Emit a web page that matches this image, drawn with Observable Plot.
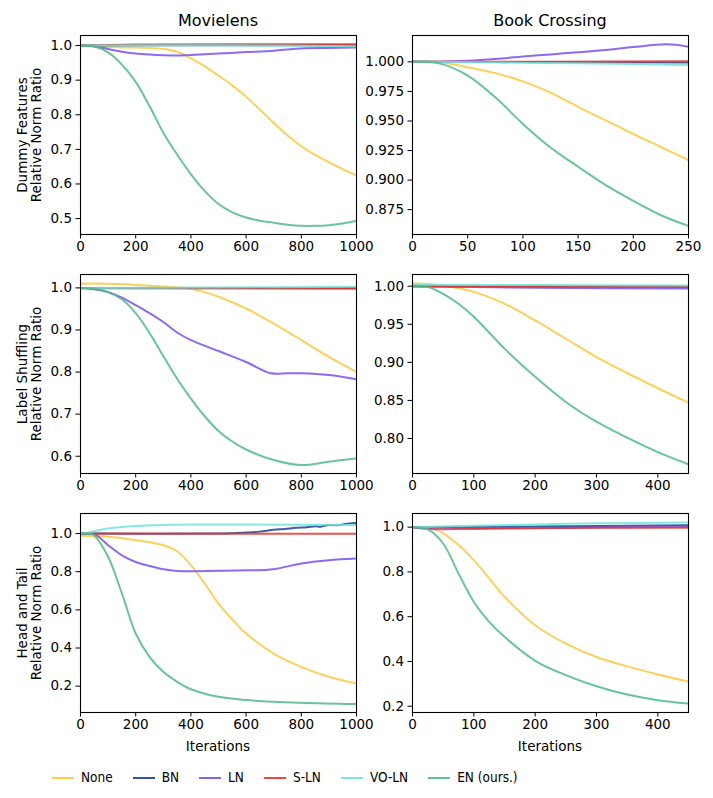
<!DOCTYPE html>
<html>
<head>
<meta charset="utf-8">
<script src="https://cdn.jsdelivr.net/npm/d3@7"></script>
<script src="https://cdn.jsdelivr.net/npm/@observablehq/plot@0.6"></script>
<style>
  html, body { margin: 0; padding: 0; background: #fff; }
  #fig { position: relative; width: 713px; height: 798px; font-family: "DejaVu Sans", sans-serif; color: #000; }
  .abs { position: absolute; }
  .title { font-size: 16px; line-height: 1; white-space: nowrap; transform: translateX(-50%); }
  .xlab { font-size: 13.5px; line-height: 1; white-space: nowrap; transform: translateX(-50%); }
  .ylab { font-size: 13.5px; line-height: 14px; white-space: nowrap; text-align: center; transform: translate(-50%, -50%) rotate(-90deg); }
  #legend { display: flex; align-items: center; font-family: "DejaVu Sans Condensed", "DejaVu Sans", sans-serif; font-stretch: condensed; font-size: 13.5px; line-height: 1; }
  .item { display: flex; align-items: center; margin-right: 20px; }
  .sw { width: 22px; height: 2.2px; margin-right: 7px; opacity: 0.9; }
</style>
</head>
<body>
<div id="fig"></div>
<script>
// ---------- series ----------
const seriesNames = ["None", "BN", "LN", "S-LN", "VO-LN", "EN (ours.)"];
const seriesColors = ["#fbc93d", "#1a3f95", "#7b4ff0", "#e8362c", "#6ee6dc", "#4dbb88"];

// ---------- Movielens / Dummy Features ----------
const mlDummyNone = [[0,0.998],[100,0.996],[200,0.994],[300,0.99],[350,0.982],[400,0.963],[450,0.94],[500,0.913],[550,0.885],[600,0.852],[650,0.815],[700,0.776],[750,0.74],[800,0.709],[850,0.684],[900,0.663],[950,0.643],[1000,0.625]];
const mlDummyBN = [[0,1.0],[500,1.001],[1000,1.001]];
const mlDummyLN = [[0,1.0],[50,0.998],[100,0.99],[150,0.982],[200,0.977],[250,0.974],[300,0.972],[350,0.971],[400,0.973],[500,0.977],[600,0.981],[700,0.985],[780,0.991],[900,0.993],[1000,0.994]];
const mlDummySLN = [[0,1.0],[200,1.003],[1000,1.004]];
const mlDummyVOLN = [[0,1.0],[500,1.001],[1000,0.998]];
const mlDummyEN = [[0,1.0],[50,0.997],[100,0.98],[150,0.945],[200,0.895],[250,0.825],[300,0.748],[350,0.685],[400,0.628],[450,0.58],[500,0.542],[550,0.518],[600,0.503],[650,0.494],[700,0.488],[750,0.482],[800,0.479],[850,0.479],[900,0.481],[950,0.486],[1000,0.493]];

// ---------- Book Crossing / Dummy Features ----------
const bcDummyNone = [[0,1.0],[25,0.9995],[50,0.9955],[75,0.9905],[100,0.9835],[125,0.974],[150,0.962],[175,0.9505],[200,0.939],[225,0.928],[250,0.917]];
const bcDummyBN = [[0,1.0],[125,0.9997],[250,0.9995]];
const bcDummyLN = [[0,1.0],[25,1.0002],[50,1.001],[75,1.0025],[100,1.0045],[125,1.0063],[150,1.0082],[175,1.01],[200,1.0125],[230,1.0148],[250,1.0128]];
const bcDummySLN = [[0,1.0],[125,1.0002],[250,1.0005]];
const bcDummyVOLN = [[0,1.0],[50,0.9998],[100,0.9993],[150,0.9988],[200,0.9981],[250,0.9973]];
const bcDummyEN = [[0,1.0],[25,0.9985],[50,0.9884],[75,0.970],[100,0.9475],[125,0.9276],[150,0.9113],[175,0.8958],[200,0.8825],[225,0.8703],[250,0.8613]];

// ---------- Movielens / Label Shuffling ----------
const mlLabelNone = [[0,1.010],[100,1.010],[150,1.009],[200,1.007],[300,1.003],[400,0.998],[450,0.99],[500,0.979],[600,0.951],[700,0.915],[800,0.876],[900,0.836],[1000,0.800]];
const mlLabelBN = [[0,1.0],[1000,1.0]];
const mlLabelLN = [[0,1.0],[50,0.997],[100,0.99],[150,0.977],[200,0.959],[250,0.94],[300,0.919],[350,0.894],[400,0.876],[500,0.85],[600,0.824],[690,0.797],[750,0.797],[800,0.797],[900,0.793],[1000,0.783]];
const mlLabelSLN = [[0,0.999],[1000,0.998]];
const mlLabelVOLN = [[0,1.0],[500,1.001],[1000,1.003]];
const mlLabelEN = [[0,1.0],[50,0.998],[100,0.99],[150,0.973],[200,0.94],[250,0.893],[300,0.838],[350,0.784],[400,0.737],[450,0.695],[500,0.66],[550,0.635],[600,0.616],[700,0.591],[800,0.579],[900,0.587],[1000,0.595]];

// ---------- Book Crossing / Label Shuffling ----------
const bcLabelNone = [[0,1.0035],[25,1.003],[50,1.001],[100,0.9926],[150,0.977],[200,0.955],[250,0.931],[300,0.907],[350,0.886],[400,0.866],[450,0.847]];
const bcLabelBN = [[0,1.0],[450,0.9995]];
const bcLabelLN = [[0,1.0],[100,0.999],[200,0.998],[450,0.997]];
const bcLabelSLN = [[0,1.0],[450,0.999]];
const bcLabelVOLN = [[0,1.002],[200,1.0015],[450,1.001]];
const bcLabelEN = [[0,1.0],[25,0.999],[50,0.990],[75,0.977],[100,0.960],[150,0.918],[200,0.881],[250,0.848],[300,0.822],[350,0.801],[400,0.782],[450,0.766]];

// ---------- Movielens / Head and Tail ----------
const mlHeadNone = [[0,0.988],[100,0.983],[200,0.965],[300,0.939],[350,0.907],[400,0.834],[450,0.738],[500,0.633],[550,0.55],[600,0.476],[700,0.371],[800,0.301],[900,0.249],[1000,0.214]];
const mlHeadBN = [[0,1.0],[500,1.0],[550,1.002],[600,1.005],[650,1.01],[700,1.02],[740,1.024],[780,1.03],[820,1.033],[850,1.038],[870,1.036],[900,1.045],[930,1.043],[960,1.05],[1000,1.055]];
const mlHeadLN = [[0,1.0],[50,0.997],[100,0.939],[150,0.886],[200,0.851],[250,0.83],[300,0.813],[350,0.804],[500,0.805],[600,0.807],[700,0.813],[800,0.843],[900,0.86],[1000,0.869]];
const mlHeadSLN = [[0,1.0],[1000,0.999]];
const mlHeadVOLN = [[0,1.0],[30,1.006],[60,1.016],[120,1.03],[240,1.042],[400,1.047],[600,1.047],[800,1.046],[1000,1.045]];
const mlHeadEN = [[0,1.0],[40,0.998],[50,0.99],[100,0.878],[150,0.686],[200,0.476],[250,0.354],[300,0.275],[350,0.223],[400,0.184],[500,0.144],[600,0.127],[800,0.113],[1000,0.106]];

// ---------- Book Crossing / Head and Tail ----------
const bcHeadNone = [[0,1.0],[25,0.999],[50,0.972],[75,0.920],[100,0.853],[125,0.771],[150,0.689],[200,0.562],[250,0.480],[300,0.420],[350,0.378],[400,0.342],[450,0.310]];
const bcHeadBN = [[0,1.0],[200,1.003],[450,1.008]];
const bcHeadLN = [[0,1.0],[30,0.992],[100,0.992],[200,0.995],[300,0.998],[450,1.002]];
const bcHeadSLN = [[0,1.0],[100,0.996],[200,0.996],[300,0.997],[450,0.997]];
const bcHeadVOLN = [[0,1.0],[100,1.006],[200,1.012],[300,1.017],[450,1.021]];
const bcHeadEN = [[0,1.0],[25,0.99],[50,0.927],[75,0.793],[100,0.666],[125,0.577],[150,0.510],[200,0.403],[250,0.339],[300,0.289],[350,0.252],[400,0.227],[450,0.212]];

// ---------- axes ----------
const mlXTicks = [0, 200, 400, 600, 800, 1000];
const bcDummyXTicks = [0, 50, 100, 150, 200, 250];
const bcXTicks = [0, 100, 200, 300, 400];
const mlDummyYTicks = [0.5, 0.6, 0.7, 0.8, 0.9, 1.0];
const bcDummyYTicks = [0.875, 0.9, 0.925, 0.95, 0.975, 1.0];
const mlLabelYTicks = [0.6, 0.7, 0.8, 0.9, 1.0];
const bcLabelYTicks = [0.8, 0.85, 0.9, 0.95, 1.0];
const headYTicks = [0.2, 0.4, 0.6, 0.8, 1.0];

const colTitles = ["Movielens", "Book Crossing"];
const rowLabels = ["Dummy Features", "Label Shuffling", "Head and Tail"];
const yAxisLabel = "Relative Norm Ratio";
const xAxisLabel = "Iterations";

function toRows(series) {
  return series.flatMap((pts, i) => pts.map(([x, y]) => ({x, y, s: seriesNames[i]})));
}

const panels = [
  {series: [mlDummyNone, mlDummyBN, mlDummyLN, mlDummySLN, mlDummyVOLN, mlDummyEN], xd: [0, 1000], yd: [0.454, 1.029], xt: mlXTicks, yt: mlDummyYTicks, fmt: ".1f", col: 0, row: 0},
  {series: [bcDummyNone, bcDummyBN, bcDummyLN, bcDummySLN, bcDummyVOLN, bcDummyEN], xd: [0, 250], yd: [0.854, 1.0223], xt: bcDummyXTicks, yt: bcDummyYTicks, fmt: ".3f", col: 1, row: 0},
  {series: [mlLabelNone, mlLabelBN, mlLabelLN, mlLabelSLN, mlLabelVOLN, mlLabelEN], xd: [0, 1000], yd: [0.559, 1.0318], xt: mlXTicks, yt: mlLabelYTicks, fmt: ".1f", col: 0, row: 1},
  {series: [bcLabelNone, bcLabelBN, bcLabelLN, bcLabelSLN, bcLabelVOLN, bcLabelEN], xd: [0, 450], yd: [0.754, 1.0154], xt: bcXTicks, yt: bcLabelYTicks, fmt: ".2f", col: 1, row: 1},
  {series: [mlHeadNone, mlHeadBN, mlHeadLN, mlHeadSLN, mlHeadVOLN, mlHeadEN], xd: [0, 1000], yd: [0.062, 1.105], xt: mlXTicks, yt: headYTicks, fmt: ".1f", col: 0, row: 2},
  {series: [bcHeadNone, bcHeadBN, bcHeadLN, bcHeadSLN, bcHeadVOLN, bcHeadEN], xd: [0, 450], yd: [0.172, 1.061], xt: bcXTicks, yt: headYTicks, fmt: ".1f", col: 1, row: 2}
];

// layout
const fig = document.getElementById("fig");
const plotW = 276, plotH = 199;
const plotLeft = [80, 412];
const plotTop = [35, 274.3, 513.3];
const mTop = 10, mBottom = 30;

panels.forEach(p => {
  const mL = p.col === 0 ? 80 : 60;
  const mR = p.col === 0 ? 10 : 20;
  const chart = Plot.plot({
    width: mL + plotW + mR,
    height: mTop + plotH + mBottom,
    marginLeft: mL, marginRight: mR, marginTop: mTop, marginBottom: mBottom,
    style: "font-family: 'DejaVu Sans', sans-serif; font-size: 13.5px; background: transparent; overflow: visible; color: #000;",
    x: {domain: p.xd},
    y: {domain: p.yd},
    color: {domain: seriesNames, range: seriesColors},
    marks: [
      Plot.line(toRows(p.series), {x: "x", y: "y", z: "s", stroke: "s", curve: "catmull-rom", strokeWidth: 2, strokeOpacity: 0.85, clip: true}),
      Plot.frame({stroke: "#000", strokeWidth: 1.1}),
      Plot.axisX({ticks: p.xt, tickSize: 4.5, tickPadding: 2, label: null, tickFormat: d3.format("d"), fontSize: 13.5}),
      Plot.axisY({ticks: p.yt, tickSize: 4.5, tickPadding: 4, label: null, tickFormat: d3.format(p.fmt), fontSize: 13.5})
    ]
  });
  chart.style.position = "absolute";
  chart.style.left = (plotLeft[p.col] - mL) + "px";
  chart.style.top = (plotTop[p.row] - mTop) + "px";
  fig.appendChild(chart);
});

// column titles
colTitles.forEach((t, i) => {
  const d = document.createElement("div");
  d.className = "abs title";
  d.textContent = t;
  d.style.left = (plotLeft[i] + plotW / 2) + "px";
  d.style.top = "13px";
  fig.appendChild(d);
});

// row labels
rowLabels.forEach((t, r) => {
  const d = document.createElement("div");
  d.className = "abs ylab";
  d.innerHTML = t + "<br>" + yAxisLabel;
  d.style.left = "29px";
  d.style.top = (plotTop[r] + plotH / 2) + "px";
  fig.appendChild(d);
});

// x labels
[0, 1].forEach(i => {
  const d = document.createElement("div");
  d.className = "abs xlab";
  d.textContent = xAxisLabel;
  d.style.left = (plotLeft[i] + plotW / 2) + "px";
  d.style.top = "740px";
  fig.appendChild(d);
});

// legend
const leg = document.createElement("div");
leg.id = "legend";
leg.className = "abs";
leg.style.left = "52px";
leg.style.top = "771px";
seriesNames.forEach((n, i) => {
  const it = document.createElement("div");
  it.className = "item";
  const sw = document.createElement("div");
  sw.className = "sw";
  sw.style.background = seriesColors[i];
  const tx = document.createElement("span");
  tx.textContent = n;
  it.appendChild(sw); it.appendChild(tx);
  leg.appendChild(it);
});
fig.appendChild(leg);
</script>
</body>
</html>
